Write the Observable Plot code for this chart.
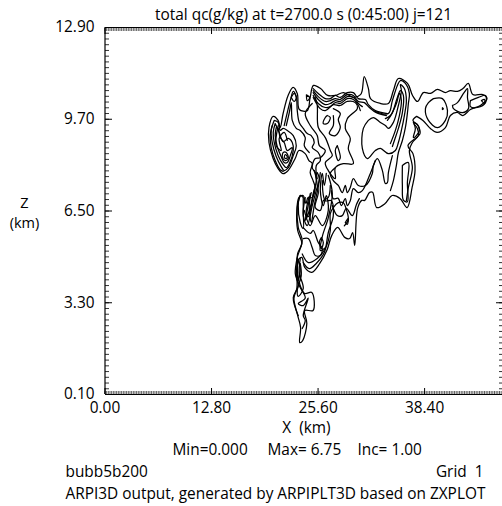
<!DOCTYPE html>
<html><head><meta charset="utf-8">
<style>html,body{margin:0;padding:0;background:#fff}svg{display:block}</style>
<script src="https://cdn.jsdelivr.net/npm/d3@7"></script>
<script src="https://cdn.jsdelivr.net/npm/@observablehq/plot@0.6"></script>
</head><body><div id="c"></div><script>
const xLabelTicks=[0,12.8,25.6,38.4];
const yLabelTicks=[0.1,3.3,6.5,9.7,12.9];
const title="total qc(g/kg) at t=2700.0 s (0:45:00) j=121";
// contours: flat x(km), z(km) pairs
const outer=[37.45,9.8,38.2,9.66,39.1,9.38,39.9,9.24,40.9,9.41,41.5,9.83,42.3,9.94,43.0,9.83,43.9,10.04,45.1,10.18,45.9,10.42,45.4,10.56,44.2,10.56,43.65,10.95,43.0,10.77,42.35,10.67,41.5,10.7,40.9,10.63,39.95,10.74,39.1,10.6,38.25,10.63,37.55,10.32,36.95,10.53,36.35,10.95,35.25,11.12,34.65,10.7,34.05,10.25,33.1,10.25,31.9,10.42,31.65,10.77,31.15,11.19,30.9,10.7,30.7,10.56,29.85,10.46,28.65,10.63,27.7,10.53,26.75,10.53,25.9,10.77,25.05,10.88,24.65,10.46,24.3,10.0,23.35,10.04,23.1,10.6,22.6,10.81,22.0,10.53,21.4,9.9,21.05,9.41,20.8,9.66,20.2,9.8,19.7,9.41,19.7,8.89,20.2,8.33,20.8,7.98,21.4,7.8,22.0,7.91,22.85,8.33,23.3,8.61,24.05,8.5,24.5,8.26,24.9,8.16,24.65,7.84,25.0,7.56,25.25,7.32,24.9,6.97,24.4,6.97,24.15,6.76,23.8,7.04,23.3,6.97,23.05,6.52,23.15,5.82,23.65,5.37,23.15,5.02,23.05,4.42,23.05,3.8,22.7,3.45,23.15,2.86,23.5,2.44,23.4,1.91,23.75,1.98,24.25,2.58,24.0,3.03,25.0,3.03,24.85,3.66,24.0,3.62,23.45,3.9,23.15,4.32,23.15,4.77,23.65,4.88,24.0,4.53,24.85,4.36,25.8,4.67,26.65,5.12,27.25,5.65,27.95,5.93,28.8,5.58,29.4,5.54,29.75,5.75,30.0,5.3,30.35,6.59,30.85,6.87,31.2,6.87,31.8,7.15,32.15,7.15,32.65,6.62,33.65,6.76,34.5,7.04,35.45,6.94,36.3,6.62,36.9,7.32,37.25,7.91,37.0,8.5,36.4,8.78,37.85,9.2,37.6,9.48,37.0,9.66,37.45,9.8];
const band1=[25.02,10.77,25.62,10.6,26.47,10.42,27.07,10.42,27.67,10.53,28.27,10.46,29.11,10.63,29.84,10.63,30.44,10.42,31.28,10.39,31.64,10.21,32.48,10.0,33.93,9.9];
const band2=[25.02,10.7,25.62,10.49,26.47,10.32,27.07,10.35,27.67,10.42,28.27,10.39,29.11,10.56,29.84,10.53,30.44,10.32,31.16,10.28,31.76,10.11,32.6,9.93,33.81,9.83];
const band3=[25.02,10.63,25.62,10.39,26.47,10.21,27.07,10.25,27.67,10.35,28.27,10.32,29.11,10.49,29.84,10.46,30.44,10.25,30.92,10.14];
const band4=[25.02,10.53,25.62,10.25,26.47,10.11,27.07,10.14,27.67,10.28,28.27,10.25,29.11,10.42,29.84,10.39,30.44,10.18,30.68,10.0];
const band5=[25.02,10.46,25.86,10.07,26.47,10.0,27.43,10.21,28.27,10.18,29.11,10.32,30.07,10.28,30.32,10.07,29.72,9.9,29.11,9.72,28.87,9.38,29.47,9.03,29.23,8.68,29.84,8.15,28.63,8.15,27.67,8.01,27.67,7.63,26.83,7.91,26.47,8.19,27.31,8.43,27.07,8.61,26.47,9.06,25.63,9.41,25.5,10.18,25.26,10.46];
const stem=[27.43,10.07,28.27,9.9,28.03,9.69,28.27,9.41,27.67,9.13,26.95,9.2,27.43,9.48,27.43,9.83];
const col1=[24.9,10.25,24.06,9.9,24.66,9.48,25.5,9.13,25.75,8.78,26.47,8.61,25.87,8.36,25.26,8.33,24.9,8.01,25.26,7.84,25.5,7.39,25.63,7.14,25.26,6.62,25.87,6.52,26.23,6.86,26.83,6.97,27.07,7.39];
const ell1=[26.71,9.83,27.07,9.76,26.71,9.55,26.23,9.55,26.47,9.76,26.71,9.83];
const ell2=[27.91,8.78,28.27,8.36,28.03,8.26,27.67,8.61,27.91,8.78];
const hole=[31.64,9.66,32.24,9.76,33.09,9.59,33.69,9.48,34.05,9.38,34.65,9.59,35.25,10.18,35.61,10.7,35.49,10.91,35.97,10.77,36.21,10.35,35.97,9.83,35.61,9.31,35.25,8.89,34.89,8.61,34.05,8.5,33.09,8.68,32.48,8.61,31.52,8.33,30.92,8.68,31.04,9.38,31.64,9.66];
const nest1=[32.48,9.97,34.05,9.9,34.53,10.35,35.13,10.88,35.49,11.05,36.09,10.95,36.57,10.6,36.45,10.25,36.33,9.9,36.09,9.41,35.73,8.96,35.25,8.54,35.01,8.09,34.65,7.56,34.29,7.21];
const nest2=[33.93,9.66,34.53,9.93,35.13,10.46,35.49,10.7,35.85,10.53,35.73,9.93,35.25,9.38,34.77,8.96,34.53,8.75];
const nest3=[33.69,9.72,34.29,9.83,35.01,10.25,35.37,10.6,35.61,10.35,35.37,9.83,34.89,9.31,34.29,8.85];
const lobe=[35.73,8.09,36.45,8.19,36.33,7.48,36.33,6.82,35.85,6.88,35.73,7.38,35.73,8.09];
const side=[37.17,9.52,37.53,9.38,37.65,9.13,36.93,8.89,36.57,8.61,36.93,8.01,36.45,7.32,36.21,6.86];
const spiral=[37.05,9.59,37.53,9.52,37.77,9.31,37.41,9.13,37.05,9.06,37.29,9.38,37.05,9.59];
const mid1=[34.53,8.43,34.05,7.84,33.93,7.49,33.69,7.46,33.33,7.91,32.73,8.33,32.24,8.08,32.12,7.81,31.28,7.39,30.44,7.39,29.84,7.63,29.47,7.32,29.11,7.14,28.87,7.39,28.51,7.14,28.03,7.39,27.43,7.56,27.07,7.81,27.67,8.01];
const mid2=[32.48,8.26,31.88,7.81,30.92,7.21,30.44,7.14,29.84,7.28,29.47,6.86,29.11,6.69,28.87,6.93,28.39,6.69,28.03,6.94,27.43,6.93,27.19,7.21];
const mid3=[23.7,5.0,24.43,4.7,25.5,4.84,26.47,5.19,27.07,5.82,27.07,6.41,27.43,6.62,28.03,6.79,28.63,6.79,29.0,6.55,29.23,6.2,28.75,5.98];
const mid4=[27.31,6.69,27.91,6.34,28.51,6.34,28.99,6.59,29.72,6.34,30.2,6.72,30.56,6.93];
const blob=[28.87,6.1,29.23,6.24,29.11,6.03,28.87,6.1];
const low1=[23.46,7.04,23.1,6.62,23.22,5.92,23.7,5.47,23.1,4.88,22.86,4.32,23.22,3.9,22.62,3.48,23.22,2.85];
const low2=[23.82,6.97,23.46,7.04,23.22,6.69,23.46,6.1,23.82,5.89,23.82,6.52,23.82,6.97];
const low3=[24.66,7.11,24.3,6.52,24.06,6.17,24.66,6.62,25.02,7.11,25.38,7.56,25.14,7.91];
const low3b=[24.54,7.0,24.18,6.45,24.43,6.3,24.9,6.86,25.26,7.39];
const low4=[23.82,5.92,24.66,5.72,25.02,5.82,25.62,5.4,26.1,5.19,25.87,4.95,25.26,4.95,24.9,5.22,24.42,5.54,23.82,5.54];
const low5=[26.83,7.74,27.31,7.11,26.83,6.27,26.1,5.6,25.87,5.12,26.47,5.22];
const ell3=[25.99,5.57,26.23,5.4,25.99,5.19,25.75,5.4,25.99,5.57];
const low6=[26.59,7.81,26.35,7.39,26.11,7.81,25.87,7.21,26.23,6.69,26.59,7.04,26.83,6.52,26.11,5.99,25.26,6.34,24.66,5.99,23.94,6.52];
const low7=[24.06,6.97,23.82,6.34,24.3,5.99,24.9,6.69,25.38,7.21,25.75,7.63,25.5,7.84];
const low8=[24.78,7.14,24.54,6.69,24.78,6.1,25.14,6.69,25.63,7.35,25.87,7.84];
const low9=[26.11,7.56,26.47,6.86,27.19,6.86,27.43,6.34,26.83,5.75,26.35,5.05,25.38,4.67,24.54,4.49,23.82,4.7];
const tail1=[23.22,4.77,22.98,4.25,23.34,3.9,24.06,3.46,23.22,3.27,23.82,3.2,24.42,3.46,23.82,2.85,24.06,2.68,23.7,2.4];
const tail2=[23.46,4.84,23.34,4.35,23.82,3.8,23.22,3.52,23.1,3.73,23.58,4.25,23.46,4.67];
const tail3=[23.1,4.84,23.22,4.08,23.46,4.49,23.1,4.84];
const ring1b=[20.09,9.48,19.85,9.13,19.97,8.71,20.45,8.26,21.05,7.94,21.41,7.88];
const ring2=[20.33,9.66,19.97,9.31,20.09,8.89,20.57,8.4,21.17,8.05,21.53,7.91,22.02,8.01,22.62,8.43,22.98,8.78,22.62,9.13,21.9,9.31,21.41,9.38,21.05,9.31,20.81,9.59,20.33,9.66];
const ring3=[20.45,9.55,20.21,9.24,20.33,8.89,20.81,8.43,21.41,8.12,21.78,8.01,22.14,8.15,22.62,8.61,22.5,8.89,22.02,9.03,21.41,8.92,20.93,9.24,20.45,9.55];
const ring4=[20.57,9.41,20.45,9.13,20.69,8.75,21.17,8.4,21.53,8.19,21.9,8.19,22.26,8.43,22.5,8.71,21.9,8.61,21.53,8.89,21.05,9.06,20.81,9.38,20.57,9.41];
const ring5=[21.29,8.36,21.65,8.26,22.02,8.33,21.78,8.54,21.41,8.54,21.29,8.36];
const ring6=[21.53,8.36,21.78,8.33,21.9,8.4,21.65,8.47,21.53,8.36];
const wiggle=[20.81,9.48,20.57,8.78,21.17,8.61,20.93,9.03,21.53,9.24,21.9,8.96];
const arc1=[21.53,9.48,21.9,9.93,22.26,10.35,22.62,10.67,22.98,10.49,23.1,10.0,23.34,9.59,23.82,9.38,24.3,9.2,24.78,9.13,25.14,8.89,24.9,8.71,25.62,8.54,25.87,8.26,25.38,8.08,25.5,7.63];
const arc2=[21.78,9.48,22.14,9.93,22.38,10.28,22.5,9.66,22.98,9.38,23.46,9.31,24.06,9.06,23.94,8.78,24.54,8.54];
const cap=[22.38,10.46,22.74,10.6,22.98,10.46,22.74,10.32,22.38,10.46];
const circle=[39.46,10.42,40.54,10.42,41.15,10.0,40.9,9.66,39.94,9.41,38.86,9.66,38.5,10.07,38.86,10.28,39.46,10.42];
const lobeA=[41.75,10.18,42.35,10.28,43.07,10.6,43.55,10.77,43.55,10.46,43.67,10.07,42.95,9.93,41.87,10.07,41.75,10.18];
const lobeB=[43.91,10.35,44.87,10.46,45.72,10.53,45.72,10.28,44.75,10.11,43.91,10.14,43.91,10.35];
const tiny=[45.23,10.35,45.6,10.39,45.6,10.25,45.23,10.35];
const dot1=[40.54,10.1,40.65,10.07,40.54,10.04,40.54,10.1];
const dot2=[24.2,10.55,24.6,10.45,24.3,10.35,24.2,10.55];

const contours=[outer,band1,band2,band3,band4,band5,stem,col1,ell1,ell2,hole,nest1,nest2,nest3,lobe,side,spiral,mid1,mid2,mid3,mid4,blob,low1,low2,low3,low3b,low4,low5,ell3,low6,low7,low8,low9,tail1,tail2,tail3,ring1b,ring2,ring3,ring4,ring5,ring6,wiggle,arc1,arc2,cap,circle,lobeA,lobeB,tiny,dot1,dot2];
const rows=contours.flatMap((c,id)=>d3.range(0,c.length,2).map(i=>({id,x:c[i],z:c[i+1]})));
const minorX=d3.range(0,241).map(i=>i*0.2);
const minorY=d3.range(0,65).map(i=>0.1+i*0.2);
const fs=15.4;
const label=(t,o)=>Plot.text([t],{frameAnchor:"top-left",lineAnchor:"middle",fontSize:fs,fill:"#000",...o});
const chart=Plot.plot({
  width:502,height:506,marginTop:27,marginBottom:112,marginLeft:105,marginRight:0,
  style:{fontFamily:"'Open Sans',sans-serif",fontSize:fs+"px",background:"#fff",color:"#000"},
  x:{domain:[0,48],range:[104.5,504]},
  y:{domain:[0.1,12.9]},
  marks:[
    Plot.line(rows,{x:"x",y:"z",z:"id",stroke:"#000",strokeWidth:1.25,strokeLinejoin:"round",curve:"catmull-rom"}),
    Plot.axisX({anchor:"bottom",ticks:minorX,tickSize:-3,tickFormat:()=>"",label:null,stroke:"#333",strokeWidth:0.8}),
    Plot.axisX({anchor:"top",ticks:minorX,tickSize:-3,tickFormat:()=>"",label:null,stroke:"#333",strokeWidth:0.8}),
    Plot.axisY({anchor:"left",ticks:minorY,tickSize:-4,tickFormat:()=>"",label:null,stroke:"#333"}),
    Plot.axisY({anchor:"right",ticks:minorY,tickSize:-4,tickFormat:()=>"",label:null,stroke:"#333"}),
    Plot.axisX({anchor:"bottom",ticks:xLabelTicks,tickSize:-6,tickPadding:14,tickFormat:d=>d.toFixed(2),label:null,fill:"#000",fontSize:fs}),
    Plot.axisX({anchor:"top",ticks:xLabelTicks,tickSize:-6,tickFormat:()=>"",label:null}),
    Plot.axisY({anchor:"left",ticks:yLabelTicks,tickSize:-7,tickPadding:18,tickFormat:d=>d.toFixed(2),label:null,fill:"#000",fontSize:fs}),
    Plot.axisY({anchor:"right",ticks:yLabelTicks,tickSize:-7,tickFormat:()=>"",label:null}),
    Plot.ruleX([0,48],{stroke:"#000",strokeWidth:1.2}),
    Plot.ruleY([0.1,12.9],{stroke:"#000",strokeWidth:1.2}),
    label(title,{dx:198,dy:-12,textAnchor:"middle"}),
    label("X  (km)",{dx:201,dy:401,textAnchor:"middle"}),
    label("Min=0.000",{dx:67,dy:423,textAnchor:"start"}),
    label("Max= 6.75",{dx:162,dy:423,textAnchor:"start"}),
    label("Inc= 1.00",{dx:252,dy:423,textAnchor:"start"}),
    label("bubb5b200",{dx:-40,dy:445,textAnchor:"start"}),
    label("Grid\u00a0\u00a01",{dx:378,dy:445,textAnchor:"end"}),
    label("ARPI3D output, generated by ARPIPLT3D based on ZXPLOT",{dx:-40,dy:467,textAnchor:"start"}),
    label("Z",{dx:-81,dy:176,textAnchor:"middle",fontSize:14.5}),
    label("(km)",{dx:-81,dy:196,textAnchor:"middle",fontSize:14.5})
  ]
});
document.getElementById("c").appendChild(chart);
</script></body></html>
